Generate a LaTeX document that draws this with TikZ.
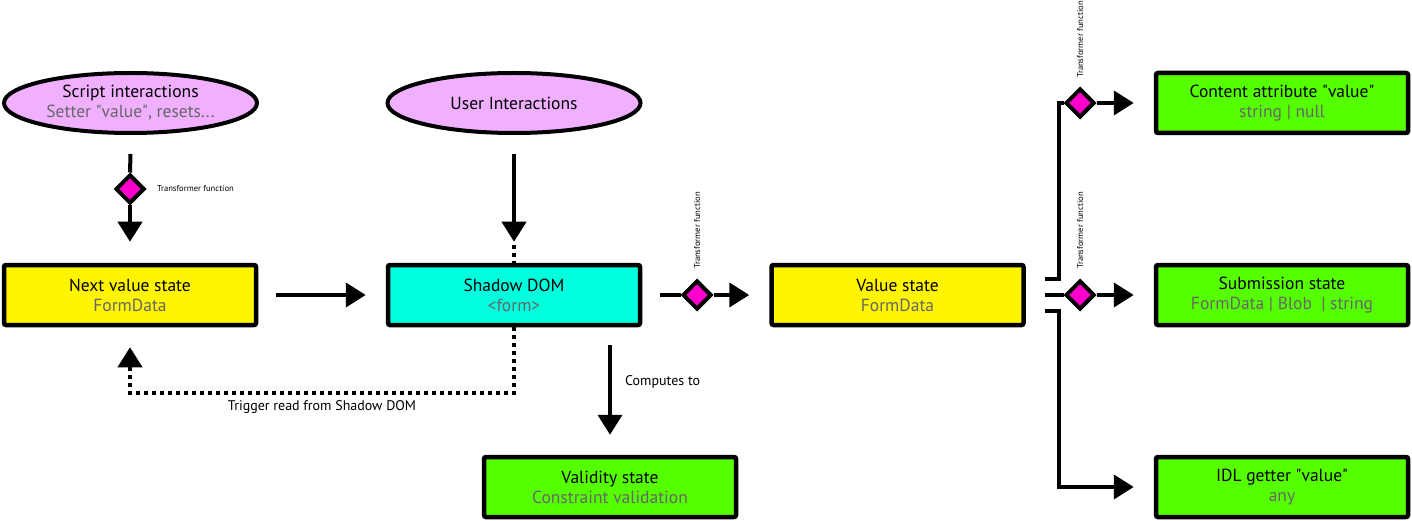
\documentclass[tikz,border=0pt]{standalone}
\usepackage{fontspec}
\setmainfont{PT Sans}
\usetikzlibrary{arrows.meta,shapes.geometric}
\definecolor{ylw}{HTML}{FFF500}
\definecolor{cyn}{HTML}{00FFDD}
\definecolor{grn}{HTML}{55FF00}
\definecolor{pnk}{HTML}{F0B0FF}
\definecolor{mag}{HTML}{FF00CC}
\definecolor{sub}{HTML}{666666}
\newcommand\qdbl{\textquotedbl}
\begin{document}
\begin{tikzpicture}[x=1pt,y=-1pt,
  box/.style={draw,line width=4.5pt,rounded corners=2pt,minimum width=252pt,minimum height=60pt,inner sep=0pt,align=center,font=\fontsize{17.5}{20}\selectfont},
  oval/.style={ellipse,draw,fill=pnk,line width=4pt,minimum width=253pt,minimum height=60pt,inner sep=0pt,align=center,font=\fontsize{17.5}{20}\selectfont},
  dia/.style={diamond,draw,fill=mag,line width=4pt,minimum size=29pt,inner sep=0pt},
  tipstyle/.style={-{Triangle[width=24pt,length=20pt]}},
  ln/.style={line width=4pt},
  arr/.style={ln,tipstyle},
  dots/.style={line width=4pt,dash pattern=on 4pt off 4pt},
  tiny/.style={font=\fontsize{8.6}{10}\selectfont,inner sep=0pt},
  lbl/.style={font=\fontsize{14}{16}\selectfont,inner sep=0pt}
]
\clip (0,0) rectangle (1412,521);
\fill[white] (0,0) rectangle (1412,521);

\node[oval] (script) at (130.5,103) {Script interactions\\\textcolor{sub}{Setter \qdbl value\qdbl, resets...}};
\node[oval] (user) at (514,103) {User Interactions};
\node[box,fill=ylw] (next) at (130,295) {Next value state\\\textcolor{sub}{FormData}};
\node[box,fill=cyn] (shadow) at (514,295) {Shadow DOM\\\textcolor{sub}{<form>}};
\node[box,fill=ylw] (value) at (897.5,295) {Value state\\\textcolor{sub}{FormData}};
\node[box,fill=grn] (validity) at (610,487) {Validity state\\\textcolor{sub}{Constraint validation}};
\node[box,fill=grn] (content) at (1282,103) {Content attribute \qdbl value\qdbl\\\textcolor{sub}{string | null}};
\node[box,fill=grn] (submission) at (1282,295) {Submission state\\\textcolor{sub}{FormData | Blob~ | string}};
\node[box,fill=grn] (idl) at (1282,487) {IDL getter \qdbl value\qdbl\\\textcolor{sub}{any}};

\node[dia] (d1) at (130,189) {};
\node[dia] (d2) at (697,295) {};
\node[dia] (d3) at (1080,103) {};
\node[dia] (d4) at (1080,295) {};

% script -> next
\draw[ln] ([yshift=-19pt]script.south) -- (d1.north);
\draw[arr] (d1.south) -- ([yshift=21pt]next.north);
% user -> shadow
\draw[arr] ([yshift=-19pt]user.south) -- ([yshift=21pt]shadow.north);
\draw[dots] ([yshift=18pt]shadow.north) -- (shadow.north);
% next -> shadow
\draw[arr] ([xshift=18pt]next.east) -- ([xshift=-20pt]shadow.west);
% shadow -> value
\draw[ln] ([xshift=18pt]shadow.east) -- (d2.west);
\draw[arr] (d2.east) -- ([xshift=-20pt]value.west);
% value -> content
\coordinate (vt) at ([xshift=19pt,yshift=16pt]value.east);
\coordinate (vm) at ([xshift=19pt]value.east);
\coordinate (vb) at ([xshift=19pt,yshift=-16pt]value.east);
\draw[ln] (vt) -- ++(14,0) |- (d3.west);
\draw[arr] (d3.east) -- ([xshift=-20pt]content.west);
% value -> submission
\draw[ln] (vm) -- (d4.west);
\draw[arr] (d4.east) -- ([xshift=-20pt]submission.west);
% value -> idl
\draw[arr] (vb) -- ++(14,0) |- ([xshift=-20pt]idl.west);
% shadow -> validity
\coordinate (s1) at ([yshift=-18pt]shadow.south);
\draw[arr] (s1 -| validity.north) -- ([yshift=20pt]validity.north);
\node[lbl,anchor=west] (ct) at (625,382) {Computes to};
% trigger read
\draw[dots,tipstyle] (shadow.south) -- ++(0,66) -| ([yshift=-20pt]next.south);
\node[lbl] (tr) at (322,407) {Trigger read from Shadow DOM};

% transformer labels
\node[tiny,anchor=west] (t1) at (157,189) {Transformer function};
\node[tiny,rotate=90,anchor=west] (t2) at (697,269) {Transformer function};
\node[tiny,rotate=90,anchor=west] (t3) at (1080,269) {Transformer function};
\node[tiny,rotate=90,anchor=west] (t4) at (1080,78) {Transformer function};
\end{tikzpicture}
\end{document}
